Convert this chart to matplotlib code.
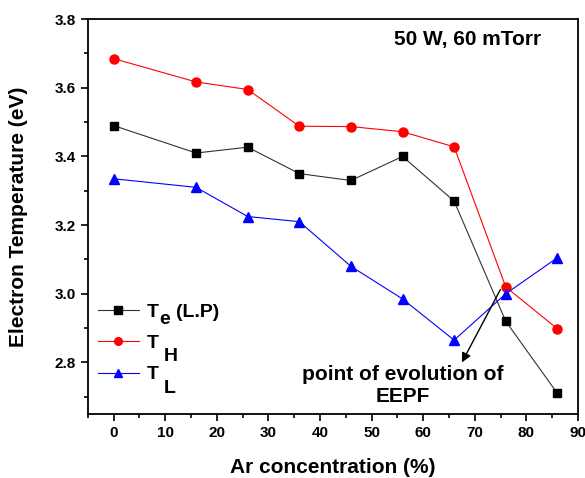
import numpy as np
import matplotlib.pyplot as plt
from matplotlib.ticker import MultipleLocator
from matplotlib.transforms import offset_copy

plt.rcParams['font.family'] = 'Liberation Sans'
plt.rcParams['font.weight'] = 'bold'

ar = [0, 16, 26, 36, 46, 56, 66, 76, 86]
te_lp = [3.49, 3.41, 3.427, 3.35, 3.33, 3.40, 3.27, 2.92, 2.71]
t_h = [3.685, 3.617, 3.595, 3.488, 3.487, 3.472, 3.428, 3.02, 2.898]
t_l = [3.335, 3.31, 3.225, 3.21, 3.08, 2.985, 2.865, 3.0, 3.105]

# legend text: main letter, subscript, drop of the subscript (pt), trailing text
leg_main = ['T', 'T', 'T']
leg_sub = ['e', 'H', 'L']
leg_drop = [5, 9, 10]
leg_tail = ['(L.P)', '', '']

fig = plt.figure(figsize=(5.85, 4.78), dpi=100)
ax = fig.add_axes([0.150, 0.134, 0.838, 0.826])

ax.plot(ar, te_lp, color='#333333', lw=0.8, marker='s', ms=6, mfc='black', mec='black', label=leg_main[0])
ax.plot(ar, t_h, color='red', lw=0.8, marker='o', ms=6.5, mfc='red', mec='red', label=leg_main[1])
ax.plot(ar, t_l, color='blue', lw=0.8, marker='^', ms=7.5, mfc='blue', mec='blue', label=leg_main[2])

ax.set_xlim(-5, 90)
ax.set_ylim(2.65, 3.8)
ax.xaxis.set_major_locator(MultipleLocator(10))
ax.xaxis.set_minor_locator(MultipleLocator(5))
ax.yaxis.set_major_locator(MultipleLocator(0.2))
ax.yaxis.set_minor_locator(MultipleLocator(0.1))
ax.yaxis.set_major_formatter(plt.FormatStrFormatter('%.1f'))
ax.tick_params(which='both', direction='out', top=False, right=False, width=1.2)
ax.tick_params(which='major', length=5, labelsize=11)
ax.tick_params(which='minor', length=3)
for s in ax.spines.values():
    s.set_linewidth(1.3)

ax.set_xlabel('Ar concentration (%)', fontsize=15, fontweight='bold', labelpad=13)
ax.set_ylabel('Electron Temperature (eV)', fontsize=15, fontweight='bold', labelpad=19)

ax.text(82.8, 3.74, '50 W, 60 mTorr', ha='right', va='center', fontsize=15, fontweight='bold')
ax.annotate('', xy=(67.5, 2.80), xytext=(74.95, 3.012),
            arrowprops=dict(arrowstyle='-|>', color='black', lw=1, mutation_scale=14,
                            shrinkA=0, shrinkB=0))
ax.text(56.1, 2.733, 'point of evolution of\nEEPF', ha='center', va='center', fontsize=15,
        fontweight='bold', linespacing=1.2)

leg = ax.legend(loc='upper left', bbox_to_anchor=(0.02, 0.28), frameon=False, fontsize=14,
                handlelength=2.15, labelspacing=0.7, handletextpad=0.36,
                borderpad=0, borderaxespad=0, markerscale=0.85)

# subscripts drawn next to the legend labels once the legend has been laid out
fig.canvas.draw()
for txt, sub, drop, tail in zip(leg.get_texts(), leg_sub, leg_drop, leg_tail):
    bb = txt.get_window_extent()
    gap = 1 if tail else 4
    tr = offset_copy(fig.dpi_scale_trans, fig=fig, x=gap, y=-drop, units='points')
    s = fig.text(bb.x1 / fig.dpi, bb.y0 / fig.dpi, sub, transform=tr, ha='left', va='bottom',
                 fontsize=14, fontweight='bold')
    if tail:
        fig.canvas.draw()
        sb = s.get_window_extent()
        tr2 = offset_copy(fig.dpi_scale_trans, fig=fig, x=4, y=0, units='points')
        fig.text(sb.x1 / fig.dpi, bb.y0 / fig.dpi, tail, transform=tr2, ha='left', va='bottom',
                 fontsize=14, fontweight='bold')

fig.savefig('out.png', dpi=100)
